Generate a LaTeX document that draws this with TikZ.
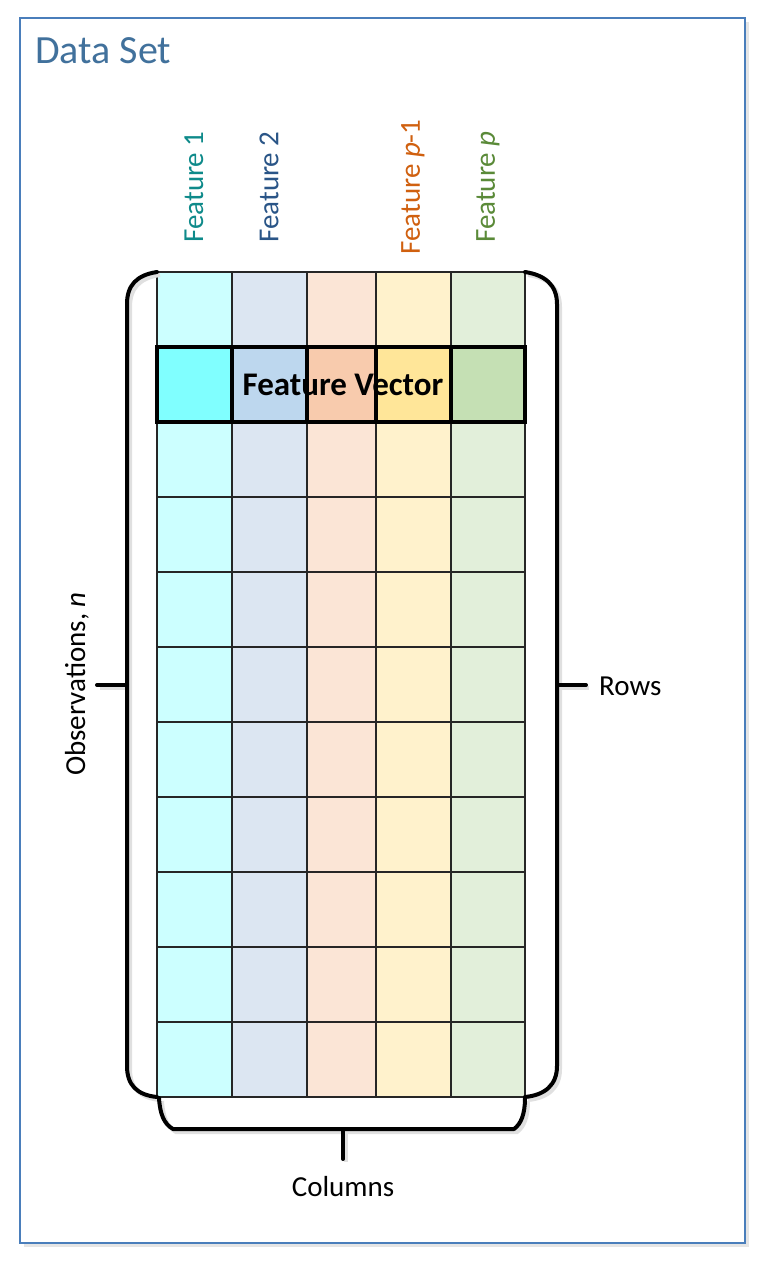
\documentclass[tikz,border=0pt]{standalone}
\usepackage{fontspec}
\setmainfont{Carlito}
\definecolor{frameblue}{HTML}{4A7EBB}
\definecolor{titleblue}{HTML}{41719C}
\definecolor{cA}{HTML}{CCFFFF}\definecolor{dA}{HTML}{80FFFF}
\definecolor{cB}{HTML}{DCE6F2}\definecolor{dB}{HTML}{BDD7EE}
\definecolor{cC}{HTML}{FBE5D6}\definecolor{dC}{HTML}{F8CBAD}
\definecolor{cD}{HTML}{FFF2CC}\definecolor{dD}{HTML}{FFE699}
\definecolor{cE}{HTML}{E2EFDA}\definecolor{dE}{HTML}{C5E0B4}
\definecolor{tA}{HTML}{0E8A8A}
\definecolor{tB}{HTML}{2A5587}
\definecolor{tC}{HTML}{D0600F}
\definecolor{tE}{HTML}{5A8A38}
\tikzset{
  cell/.style={draw=black!85, line width=1.5pt},
  fvcell/.style={draw=black, line width=3.2pt},
  brace/.style={draw=black, line width=4pt, line cap=round, line join=round},
  bshadow/.style={draw=black!12, line width=4pt},
  lbl/.style={font=\fontsize{29}{31}\selectfont, inner sep=0pt},
}
\begin{document}
\begin{tikzpicture}[x=1pt,y=-1pt]
\useasboundingbox (0,0) rectangle (767,1269);
% outer frame with shadow
\fill[black!10] (24,22) rectangle (749,1247);
\fill[white] (20,18) rectangle (745,1243);
\draw[frameblue, line width=1.5pt] (20,18) rectangle (745,1243);
\node[lbl, font=\fontsize{40}{42}\selectfont, text=titleblue, anchor=base west] (title) at (35,63) {Data Set};
% grid
\def\xs{{157,232,307,376,451,525}}
\foreach \c/\lc in {0/cA,1/cB,2/cC,3/cD,4/cE}{
  \pgfmathsetmacro\xa{\xs[\c]}
  \pgfmathsetmacro\xb{\xs[\c+1]}
  \foreach \r in {0,...,10}{
    \pgfmathsetmacro\ya{272+75*\r}
    \pgfmathsetmacro\yb{347+75*\r}
    \ifnum\r=1\else
      \filldraw[fill=\lc, cell] (\xa,\ya) rectangle (\xb,\yb);
    \fi
  }
}
\foreach \c/\dc in {0/dA,1/dB,2/dC,3/dD,4/dE}{
  \pgfmathsetmacro\xa{\xs[\c]}
  \pgfmathsetmacro\xb{\xs[\c+1]}
  \filldraw[fill=\dc, fvcell] (\xa,347) rectangle (\xb,422);
}
\node[lbl, font=\fontsize{33}{35}\selectfont\bfseries] (fv) at (343,385) {Feature Vector};
% feature labels
\node[lbl, rotate=90, text=tA] (f1) at (194,187) {Feature 1};
\node[lbl, rotate=90, text=tB] (f2) at (269,187) {Feature 2};
\node[lbl, rotate=90, text=tC] (fp1) at (413,187) {Feature \textit{p}-1};
\node[lbl, rotate=90, text=tE] (fp) at (488,187) {Feature \textit{p}};
% brace shadows
\begin{scope}[shift={(3,3)}]
\draw[bshadow] (157,272) .. controls (137,275) and (127,285) .. (127,304) -- (127,1066) .. controls (127,1085) and (137,1095) .. (157,1097);
\draw[bshadow] (525,272) .. controls (545,275) and (557,285) .. (557,304) -- (557,1066) .. controls (557,1085) and (545,1095) .. (525,1097);
\draw[bshadow] (159,1098) .. controls (160,1114) and (164,1124) .. (173,1129) -- (514,1129) .. controls (521,1124) and (525,1114) .. (525,1098);
\draw[bshadow] (127,685) -- (97,685);
\draw[bshadow] (557,685) -- (586,685);
\draw[bshadow] (343,1129) -- (343,1159);
\end{scope}
% braces
\coordinate (lt) at (127,685);
\coordinate (ltick) at (97,685);
\coordinate (rt) at (557,685);
\coordinate (rtick) at (586,685);
\coordinate (bt) at (343,1129);
\coordinate (btick) at (343,1159);
\draw[brace] (157,272) .. controls (137,275) and (127,285) .. (127,304) -- (127,1066) .. controls (127,1085) and (137,1095) .. (157,1097);
\draw[brace] (525,272) .. controls (545,275) and (557,285) .. (557,304) -- (557,1066) .. controls (557,1085) and (545,1095) .. (525,1097);
\draw[brace] (159,1098) .. controls (160,1114) and (164,1124) .. (173,1129) -- (514,1129) .. controls (521,1124) and (525,1114) .. (525,1098);
\draw[brace] (lt) -- (ltick);
\draw[brace] (rt) -- (rtick);
\draw[brace] (bt) -- (btick);
% labels
\node[lbl, rotate=90] (obs) at (77,684) {Observations, \textit{n}};
\node[lbl, anchor=west] (rows) at (599,686) {Rows};
\node[lbl] (cols) at (343,1187) {Columns};
\end{tikzpicture}
\end{document}
